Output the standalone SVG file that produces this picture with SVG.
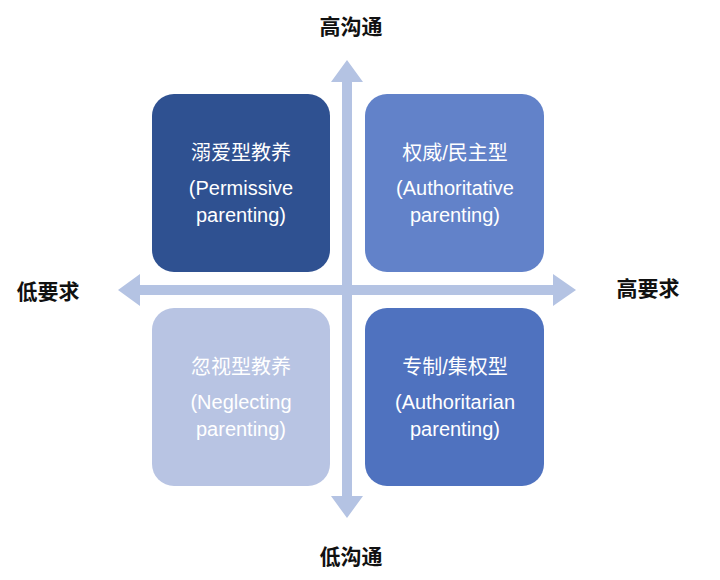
<svg xmlns="http://www.w3.org/2000/svg" width="720" height="580" viewBox="0 0 720 580">
<style>
.t{font-family:"Liberation Sans","Noto Sans CJK SC",sans-serif;fill:#fff;font-size:20px;text-anchor:middle}
.l{font-family:"Noto Sans CJK SC",sans-serif;fill:#111;font-size:21px;font-weight:bold;text-anchor:middle}
</style>
<rect width="720" height="580" fill="#fff"/>
<g id="connectors" fill="#b4c3e3">
<polygon points="347,60 363,82 352,82 352,496 363,496 347,518 331,496 342,496 342,82 331,82"/>
<polygon points="118,290 140,274 140,285 553,285 553,274 576,290 553,306 553,295 140,295 140,306"/>
</g>
<g id="permissive"><rect x="152" y="94" width="178" height="178" rx="22" fill="#2f5191"/>
<text class="t" x="241" y="160">溺爱型教养</text><text class="t" x="241" y="195">(Permissive</text><text class="t" x="241" y="222">parenting)</text></g>
<g id="authoritative"><rect x="365" y="94" width="179" height="178" rx="22" fill="#6282c9"/>
<text class="t" x="455" y="160">权威/民主型</text><text class="t" x="455" y="195">(Authoritative</text><text class="t" x="455" y="222">parenting)</text></g>
<g id="neglecting"><rect x="152" y="308" width="178" height="178" rx="22" fill="#b8c4e3"/>
<text class="t" x="241" y="374">忽视型教养</text><text class="t" x="241" y="409">(Neglecting</text><text class="t" x="241" y="436">parenting)</text></g>
<g id="authoritarian"><rect x="365" y="308" width="179" height="178" rx="22" fill="#4f72bf"/>
<text class="t" x="455" y="374">专制/集权型</text><text class="t" x="455" y="409">(Authoritarian</text><text class="t" x="455" y="436">parenting)</text></g>
<g id="labels">
<text class="l" x="351" y="34">高沟通</text>
<text class="l" x="351" y="564">低沟通</text>
<text class="l" x="48" y="299">低要求</text>
<text class="l" x="648" y="296">高要求</text>
</g>
</svg>
